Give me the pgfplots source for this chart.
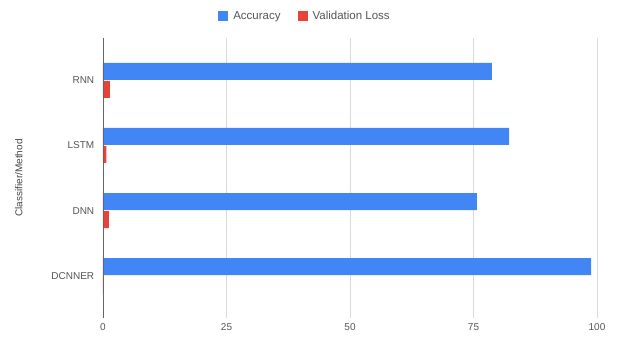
\documentclass[border=0pt]{standalone}
\usepackage{pgfplots}
\pgfplotsset{compat=1.18}
\usepackage{fontspec}
\setmainfont{Liberation Sans}
\definecolor{gblue}{HTML}{4285F4}
\definecolor{gred}{HTML}{EA4335}
\definecolor{txt}{HTML}{555555}
\begin{document}
\begin{tikzpicture}
\begin{axis}[
  scale only axis,
  width=494pt, height=280pt,
  xbar, bar width=17pt,
  xmin=0, xmax=100,
  ymin=-0.65, ymax=3.65,
  y dir=reverse,
  ytick={0,1,2,3},
  yticklabels={RNN,LSTM,DNN,DCNNER},
  xtick={0,25,50,75,100},
  xmajorgrids, grid style={gray!30, line width=0.6pt},
  axis line style={draw=none},
  tick style={draw=none},
  ticklabel style={font=\fontsize{10}{12}\selectfont, text=txt},
  /pgf/number format/assume math mode=true,
  xticklabel style={yshift=-2pt},
  yticklabel style={xshift=-1pt},
  ylabel={Classifier/Method},
  ylabel style={font=\fontsize{10}{12}\selectfont, text=txt!80!black, yshift=22pt},
  legend style={at={(0.412,1.079)}, anchor=center, draw=none, fill=none,
    font=\fontsize{11.5}{13}\selectfont, text=txt, legend columns=2,
    nodes={inner xsep=5pt},
    /tikz/every even column/.append style={column sep=12pt}},
  legend image code/.code={\fill[#1] (0pt,-5pt) rectangle (10pt,5pt);},
]
\addplot[fill=gblue, draw=none, bar shift=9pt] coordinates {(78.7,0) (82.2,1) (75.7,2) (98.8,3)};
\addplot[fill=gred, draw=none, bar shift=-9pt] coordinates {(1.4,0) (0.7,1) (1.2,2) (0.1,3)};
\legend{Accuracy, Validation Loss}
\draw[gray!80!black, line width=0.8pt] (rel axis cs:0,0) -- (rel axis cs:0,1);
\end{axis}
\useasboundingbox (-103pt,-24pt) rectangle (514pt,318pt);
\end{tikzpicture}
\end{document}
